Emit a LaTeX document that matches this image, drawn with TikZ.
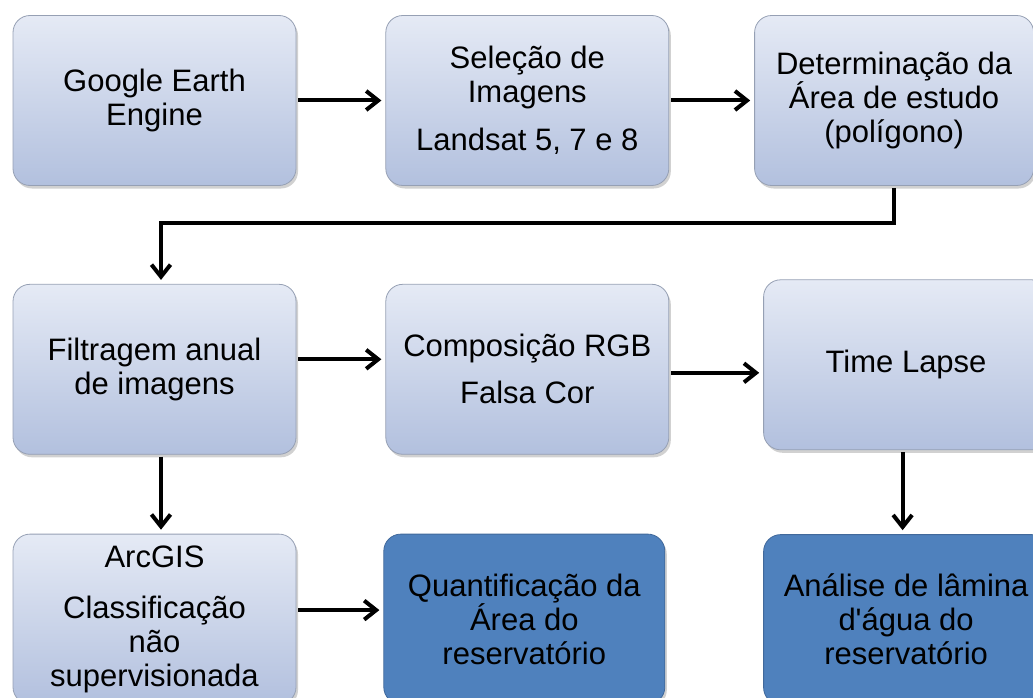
\documentclass[tikz,border=0pt]{standalone}
\usepackage{fontspec}
\setmainfont{Liberation Sans}
\usetikzlibrary{positioning}
\usetikzlibrary{arrows.meta,shadows}

\definecolor{boxtop}{RGB}{229,234,245}
\definecolor{boxbottom}{RGB}{178,192,222}
\definecolor{boxline}{RGB}{150,160,180}
\definecolor{resfill}{RGB}{79,129,189}
\definecolor{resline}{RGB}{65,105,155}

\begin{document}
\begin{tikzpicture}[x=1pt,y=-1pt,>={Straight Barb[length=12pt,width=19pt]},
                node distance=89pt,font=\fontsize{31}{34}\selectfont,
                main node/.style={rectangle,rounded corners=17pt,draw=boxline,line width=0.8pt,
                  top color=boxtop,bottom color=boxbottom,minimum width=283pt,minimum height=170pt,
                  inner sep=0pt,align=center,
                  drop shadow={shadow xshift=2pt,shadow yshift=-3pt,opacity=0.3,fill=black!60}},
                result node/.style={main node,draw=resline,top color=resfill,bottom color=resfill},
                link/.style={->,line width=4pt,shorten >=4pt,shorten <=2pt}]

  \useasboundingbox (0,0) rectangle (1033,698);
  \clip (0,0) rectangle (1033,698);

  \node[main node] (1) at (154.5,100.5) {Google Earth\\Engine};
  \node[main node] (2) [right=89pt of 1] {Seleção de\\Imagens\\[14pt]Landsat 5, 7 e 8};
  \node[main node,minimum width=279pt] (3) [right=85pt of 2] {Determinação da\\Área de estudo\\(polígono)};
  \node[main node] (4) [below=98pt of 1] {Filtragem anual\\de imagens};
  \node[main node] (5) [right=of 4] {Composição RGB\\[13pt]Falsa Cor};
  \node[main node,minimum width=285pt] (6) [right=94pt of 5,yshift=4.5pt] {Time Lapse};
  \node[main node] (7) [below=79pt of 4] {ArcGIS\\[17pt]Classificação\\não\\supervisionada};
  \node[result node,minimum width=281pt] (8) [right=87pt of 7] {Quantificação da\\Área do\\reservatório};
  \node[result node,minimum width=285pt] (9) [below=84pt of 6] {Análise de lâmina\\d\textquotesingle água do\\reservatório};

  \path
    (1) edge [link] (2)
    (2.east) edge [link] (2.east -| 3.west)
    ([yshift=10pt]4.east) edge [link] ([yshift=10pt]4.east -| 5.west)
    ([yshift=-3.5pt]5.east) edge [link] ([yshift=-3.5pt]5.east -| 6.west)
    ([xshift=6.5pt]4.south) edge [link] ([xshift=6.5pt]4.south |- 7.north)
    ([xshift=-3.5pt]6.south) edge [link] ([xshift=-3.5pt]6.south |- 9.north)
    ([yshift=9pt]7.east) edge [link] ([yshift=9pt]7.east -| 8.west);

  \draw[link] (3.south) -- ++(0,37) -| ([xshift=6.5pt]4.north);

\end{tikzpicture}
\end{document}
